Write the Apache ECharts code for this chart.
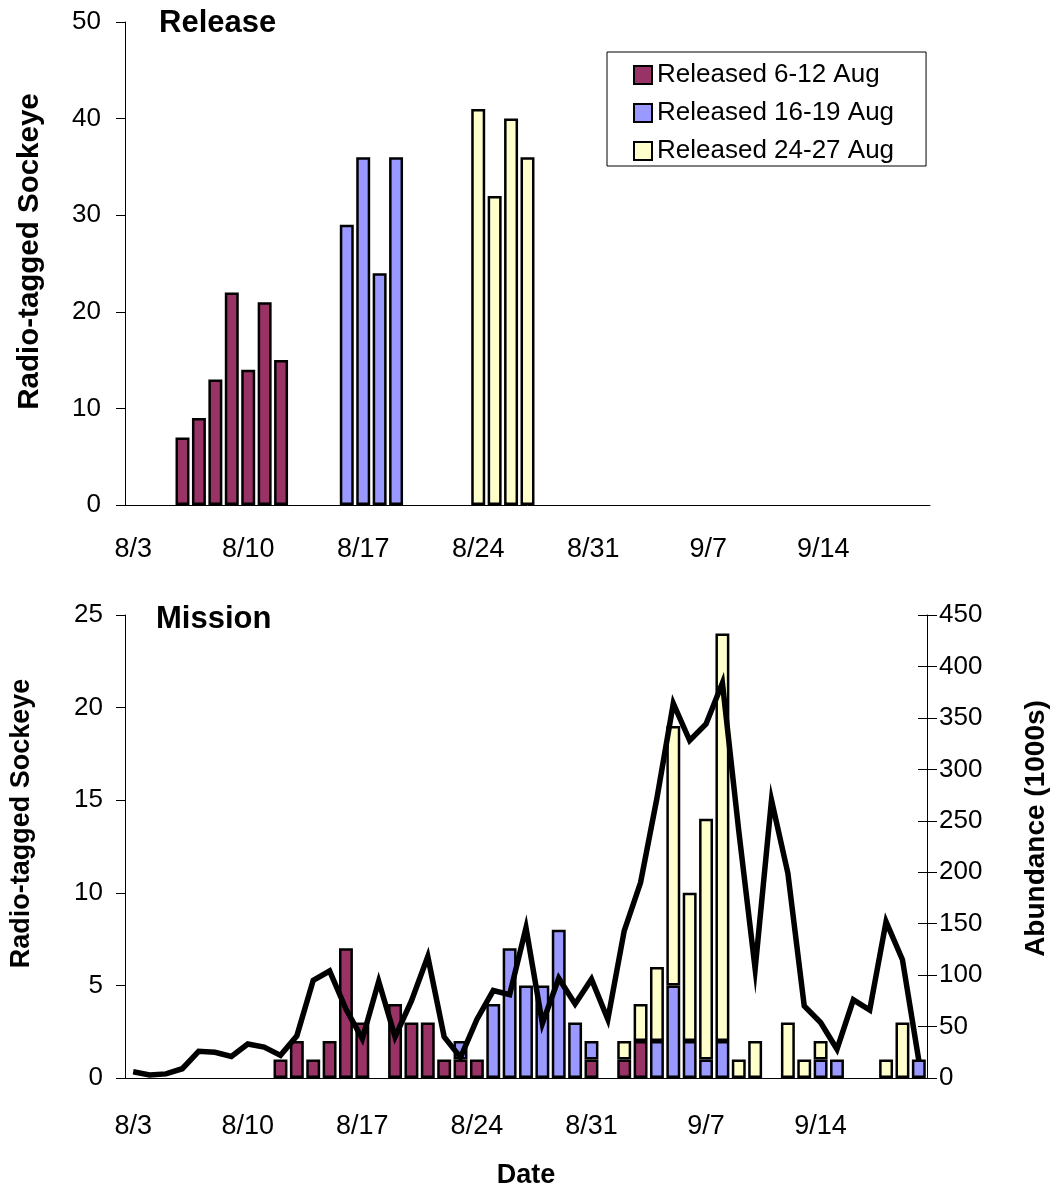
<!DOCTYPE html>
<html>
<head>
<meta charset="utf-8">
<script src="https://cdn.jsdelivr.net/npm/echarts@6/dist/echarts.min.js"></script>
<style>
html,body{margin:0;padding:0;background:#fff;}
#chart{width:1058px;height:1190px;}
</style>
</head>
<body>
<div id="chart"></div>
<script>
// Daily categories 8/3 .. 9/20
const categories = ['8/3','8/4','8/5','8/6','8/7','8/8','8/9','8/10','8/11','8/12','8/13','8/14','8/15','8/16','8/17','8/18','8/19','8/20','8/21','8/22','8/23','8/24','8/25','8/26','8/27','8/28','8/29','8/30','8/31',
  '9/1','9/2','9/3','9/4','9/5','9/6','9/7','9/8','9/9','9/10','9/11','9/12','9/13','9/14','9/15','9/16','9/17','9/18','9/19','9/20'];

const groupNames = ['Released 6-12 Aug', 'Released 16-19 Aug', 'Released 24-27 Aug'];

// Release panel
const releaseEarlyDates = ['8/6','8/7','8/8','8/9','8/10','8/11','8/12'];
const releaseEarlyCounts = [7, 9, 13, 22, 14, 21, 15];
const releaseMidDates = ['8/16','8/17','8/18','8/19'];
const releaseMidCounts = [29, 36, 24, 36];
const releaseLateDates = ['8/24','8/25','8/26','8/27'];
const releaseLateCounts = [41, 32, 40, 36];

// Mission panel (tagged fish detected)
const missionEarlyDates = ['8/12','8/13','8/14','8/15','8/16','8/17','8/19','8/20','8/21','8/22','8/23','8/24','8/31','9/2','9/3'];
const missionEarlyCounts = [1, 2, 1, 2, 7, 3, 4, 3, 3, 1, 1, 1, 1, 1, 2];
const missionMidDates = ['8/23','8/25','8/26','8/27','8/28','8/29','8/30','8/31','9/4','9/5','9/6','9/7','9/8','9/14','9/15','9/20'];
const missionMidCounts = [1, 4, 7, 5, 5, 8, 3, 1, 2, 5, 2, 1, 2, 1, 1, 1];
const missionLateDates = ['9/2','9/3','9/4','9/5','9/6','9/7','9/8','9/9','9/10','9/12','9/13','9/14','9/18','9/19'];
const missionLateCounts = [1, 2, 4, 14, 8, 13, 22, 1, 2, 3, 1, 1, 1, 3];

// Mission abundance (1000s), one per day 8/3 .. 9/20
const abundance = [6, 3, 4, 9, 26, 25, 21, 33, 30, 22, 41, 95, 104, 67, 38, 94, 40, 75, 118, 40, 20, 57, 85, 81, 146, 53, 97, 72, 96, 57,
  143, 190, 272, 364, 328, 344, 384, 240, 106, 270, 199, 70, 54, 28, 76, 66, 152, 115, 17];

const colors = ['#993366', '#9999FF', '#FFFFCC'];

function expand(dates, counts) {
  return categories.map(c => {
    const i = dates.indexOf(c);
    return i >= 0 ? counts[i] : '-';
  });
}

const FONT = 'Liberation Sans, Arial, sans-serif';
const axisText = {color: '#000', fontSize: 26, fontFamily: FONT};
const nameText = {color: '#000', fontSize: 27, fontWeight: 'bold', fontFamily: FONT};

function xAxisDef(gridIndex, margin, extra) {
  return Object.assign({
    type: 'category', gridIndex: gridIndex, data: categories, boundaryGap: true,
    axisLine: {lineStyle: {color: '#000', width: 1}},
    axisTick: {interval: 6, length: 9, lineStyle: {color: '#000'}},
    axisLabel: Object.assign({interval: 6, margin: margin}, axisText, {fontSize: 27}),
    splitLine: {show: false}
  }, extra || {});
}

function barSeries(name, idx, xi, yi, data, stack) {
  return {
    type: 'bar', name: name, xAxisIndex: xi, yAxisIndex: yi, stack: stack,
    data: data, barCategoryGap: '15%',
    itemStyle: {color: colors[idx], borderColor: '#000', borderWidth: 2.5},
    emphasis: {disabled: true}
  };
}

const relData = [expand(releaseEarlyDates, releaseEarlyCounts), expand(releaseMidDates, releaseMidCounts), expand(releaseLateDates, releaseLateCounts)];
const misData = [expand(missionEarlyDates, missionEarlyCounts), expand(missionMidDates, missionMidCounts), expand(missionLateDates, missionLateCounts)];

const option = {
  animation: false,
  backgroundColor: '#fff',
  textStyle: {fontFamily: FONT},
  title: [
    {text: 'Release', left: 159, top: 8, padding: 0, textStyle: {fontSize: 31, fontWeight: 'bold', color: '#000', fontFamily: FONT}},
    {text: 'Mission', left: 156, top: 604, padding: 0, textStyle: {fontSize: 31, fontWeight: 'bold', color: '#000', fontFamily: FONT}}
  ],
  legend: {
    data: groupNames, orient: 'vertical', left: 607, top: 52,
    padding: [10, 32, 2, 26], itemGap: 12, itemWidth: 18, itemHeight: 18,
    icon: 'rect', borderColor: '#000', borderWidth: 1, backgroundColor: '#fff',
    textStyle: {fontSize: 26, color: '#000', fontFamily: FONT},
    selectedMode: false
  },
  grid: [
    {left: 125, top: 22, width: 805, height: 483},
    {left: 125, top: 615, width: 808, height: 466}
  ],
  xAxis: [
    xAxisDef(0, 31),
    xAxisDef(1, 35, {name: 'Date', nameLocation: 'middle', nameGap: 84, nameTextStyle: nameText})
  ],
  yAxis: [
    {type: 'value', gridIndex: 0, min: 0, max: 50, interval: 10,
      name: 'Radio-tagged Sockeye', nameLocation: 'middle', nameGap: 80,
      nameTextStyle: Object.assign({padding: [0, 0, 0, 24]}, nameText, {fontSize: 29.5}),
      axisLine: {show: true, lineStyle: {color: '#000'}},
      axisTick: {show: true, length: 9, lineStyle: {color: '#000'}},
      axisLabel: Object.assign({margin: 24}, axisText),
      splitLine: {show: false}},
    {type: 'value', gridIndex: 1, min: 0, max: 25, interval: 5,
      name: 'Radio-tagged Sockeye', nameLocation: 'middle', nameGap: 90,
      nameTextStyle: Object.assign({padding: [0, 0, 0, 46]}, nameText),
      axisLine: {show: true, lineStyle: {color: '#000'}},
      axisTick: {show: true, length: 9, lineStyle: {color: '#000'}},
      axisLabel: Object.assign({margin: 22}, axisText),
      splitLine: {show: false}},
    {type: 'value', gridIndex: 1, position: 'right', min: 0, max: 450, interval: 50,
      name: 'Abundance (1000s)', nameLocation: 'middle', nameGap: 95,
      nameTextStyle: Object.assign({padding: [0, 0, 0, 36]}, nameText, {fontSize: 28}),
      axisLine: {show: true, lineStyle: {color: '#000'}},
      axisTick: {show: true, length: 10, lineStyle: {color: '#000'}},
      axisLabel: Object.assign({margin: 12}, axisText),
      splitLine: {show: false}},
    {type: 'value', gridIndex: 1, position: 'right', min: 0, max: 450, interval: 50,
      axisLine: {show: false},
      axisTick: {show: true, inside: true, length: 9, lineStyle: {color: '#000'}},
      axisLabel: {show: false},
      splitLine: {show: false}}
  ],
  series: [
    barSeries(groupNames[0], 0, 0, 0, relData[0], 'rel'),
    barSeries(groupNames[1], 1, 0, 0, relData[1], 'rel'),
    barSeries(groupNames[2], 2, 0, 0, relData[2], 'rel'),
    barSeries(groupNames[0], 0, 1, 1, misData[0], 'mis'),
    barSeries(groupNames[1], 1, 1, 1, misData[1], 'mis'),
    barSeries(groupNames[2], 2, 1, 1, misData[2], 'mis'),
    {type: 'line', name: 'Abundance', xAxisIndex: 1, yAxisIndex: 2, data: abundance,
      symbol: 'none', z: 5,
      lineStyle: {color: '#000', width: 5.5, join: 'miter', miterLimit: 10},
      emphasis: {disabled: true}}
  ]
};

const chart = echarts.init(document.getElementById('chart'), null, {renderer: 'canvas'});
chart.setOption(option);
</script>
</body>
</html>
